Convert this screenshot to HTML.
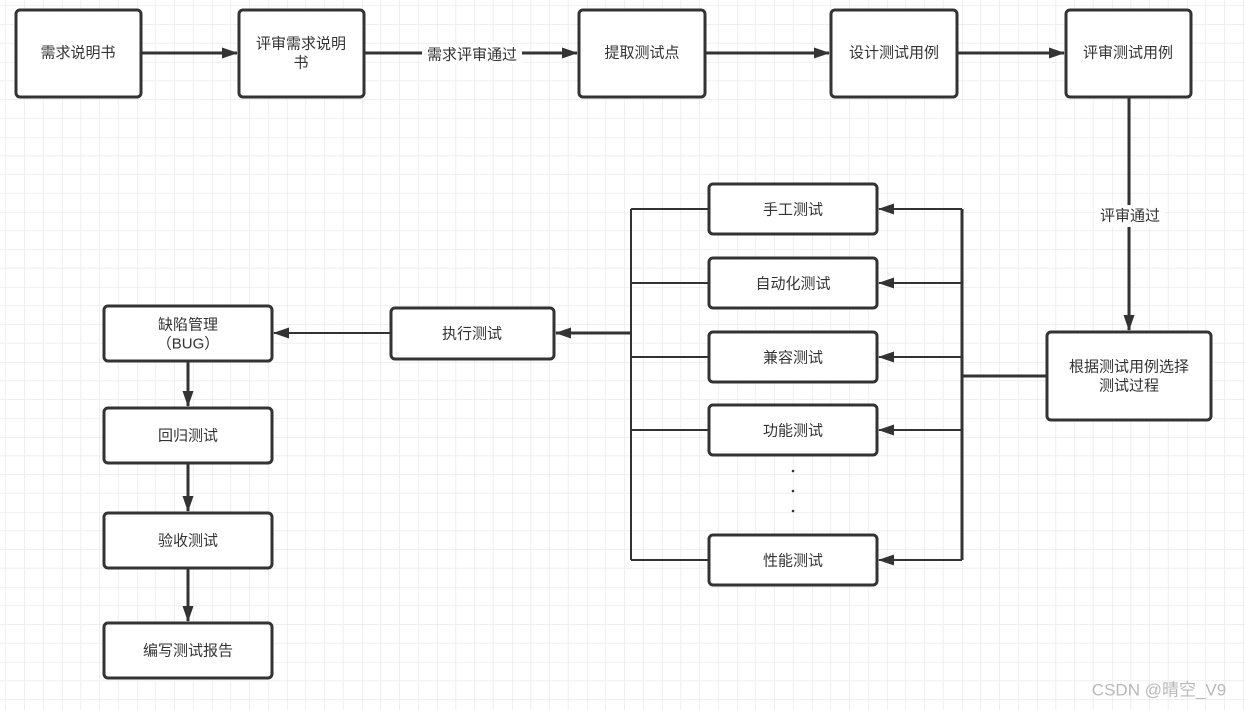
<!DOCTYPE html>
<html><head><meta charset="utf-8"><style>
html,body{margin:0;padding:0;background:#fff;}
svg{display:block}
text{font-family:"Liberation Sans","Noto Sans CJK SC",sans-serif;font-size:15px;fill:#333;text-anchor:middle;dominant-baseline:central}
</style></head><body>
<svg width="1245" height="710" viewBox="0 0 1245 710" xmlns="http://www.w3.org/2000/svg">
<defs>
<pattern id="g" x="62" y="62" width="75" height="75" patternUnits="userSpaceOnUse">
<path d="M18.75 0V75M37.5 0V75M56.25 0V75M0 18.75H75M0 37.5H75M0 56.25H75" stroke="#efefef" stroke-width="1" fill="none"/>
<path d="M0 0V75M0 0H75" stroke="#e3e3e3" stroke-width="1" fill="none"/>
</pattern>
<marker id="a" markerWidth="10" markerHeight="10" refX="9" refY="5" orient="auto" markerUnits="userSpaceOnUse"><path d="M0 0L10 5L0 10Z" fill="#333"/></marker>
<marker id="b" markerWidth="16" markerHeight="12" refX="15" refY="6" orient="auto" markerUnits="userSpaceOnUse"><path d="M0 0.5L16 6L0 11.5Z" fill="#333"/></marker>
</defs>
<rect width="1245" height="710" fill="url(#g)"/>
<g fill="#fff" stroke="#333" stroke-width="3">
<rect x="16" y="10" width="125" height="87" rx="4"/>
<rect x="239" y="10" width="125" height="87" rx="4"/>
<rect x="579" y="10" width="126" height="87" rx="4"/>
<rect x="831" y="10" width="126" height="87" rx="4"/>
<rect x="1066" y="10" width="125" height="87" rx="4"/>
<rect x="1047" y="332" width="164" height="88" rx="4"/>
<rect x="709" y="184" width="168" height="50" rx="4"/>
<rect x="709" y="258" width="168" height="50" rx="4"/>
<rect x="709" y="332" width="168" height="50" rx="4"/>
<rect x="709" y="405" width="168" height="50" rx="4"/>
<rect x="709" y="535" width="168" height="50" rx="4"/>
<rect x="391" y="308" width="163" height="51" rx="4"/>
<rect x="104" y="306" width="168" height="55" rx="4"/>
<rect x="104" y="408" width="168" height="55" rx="4"/>
<rect x="104" y="513" width="168" height="55" rx="4"/>
<rect x="104" y="623" width="168" height="55" rx="4"/>
</g>
<g stroke="#333" stroke-width="3" fill="none">
<path d="M141 53H237" marker-end="url(#b)"/>
<path d="M364 53H577" marker-end="url(#b)"/>
<path d="M705 53H829" marker-end="url(#b)"/>
<path d="M957 53H1064" marker-end="url(#b)"/>
<path d="M1129 97V330" marker-end="url(#b)"/>
<path d="M1047 376H962"/>
<path d="M962 209V560"/>
<path d="M962 209H879" stroke-width="2" marker-end="url(#b)"/>
<path d="M962 283H879" stroke-width="2" marker-end="url(#b)"/>
<path d="M962 357H879" stroke-width="2" marker-end="url(#b)"/>
<path d="M962 430H879" stroke-width="2" marker-end="url(#b)"/>
<path d="M962 560H879" stroke-width="2" marker-end="url(#b)"/>
<path d="M631 209V560" stroke-width="2"/>
<path d="M709 209H631M709 283H631M709 357H631M709 430H631M709 560H631" stroke-width="2"/>
<path d="M631 333H556" marker-end="url(#b)"/>
<path d="M391 333H274" stroke-width="2" marker-end="url(#b)"/>
<path d="M188 361V406" marker-end="url(#b)"/>
<path d="M188 463V511" marker-end="url(#b)"/>
<path d="M188 568V621" marker-end="url(#b)"/>
</g>
<rect x="422" y="44" width="100" height="20" fill="#fff"/>
<rect x="1095" y="205" width="70" height="22" fill="#fff"/>
<text x="78" y="53">需求说明书</text>
<text x="301" y="44">评审需求说明</text>
<text x="301" y="63">书</text>
<text x="472" y="55">需求评审通过</text>
<text x="642" y="53">提取测试点</text>
<text x="894" y="53">设计测试用例</text>
<text x="1128" y="53">评审测试用例</text>
<text x="1130" y="216">评审通过</text>
<text x="1129" y="367">根据测试用例选择</text>
<text x="1129" y="386">测试过程</text>
<text x="793" y="210">手工测试</text>
<text x="793" y="284">自动化测试</text>
<text x="793" y="358">兼容测试</text>
<text x="793" y="431">功能测试</text>
<text x="793" y="561">性能测试</text>
<g fill="#333"><circle cx="793" cy="471" r="1.3"/><circle cx="793" cy="491" r="1.3"/><circle cx="793" cy="511" r="1.3"/></g>
<text x="472" y="334">执行测试</text>
<text x="188" y="325">缺陷管理</text>
<text x="188" y="344">（BUG）</text>
<text x="188" y="436">回归测试</text>
<text x="188" y="541">验收测试</text>
<text x="188" y="651">编写测试报告</text>
<text x="1159" y="690" style="font-size:17px;fill:#b8b8b8">CSDN @晴空_V9</text>
</svg>
</body></html>
